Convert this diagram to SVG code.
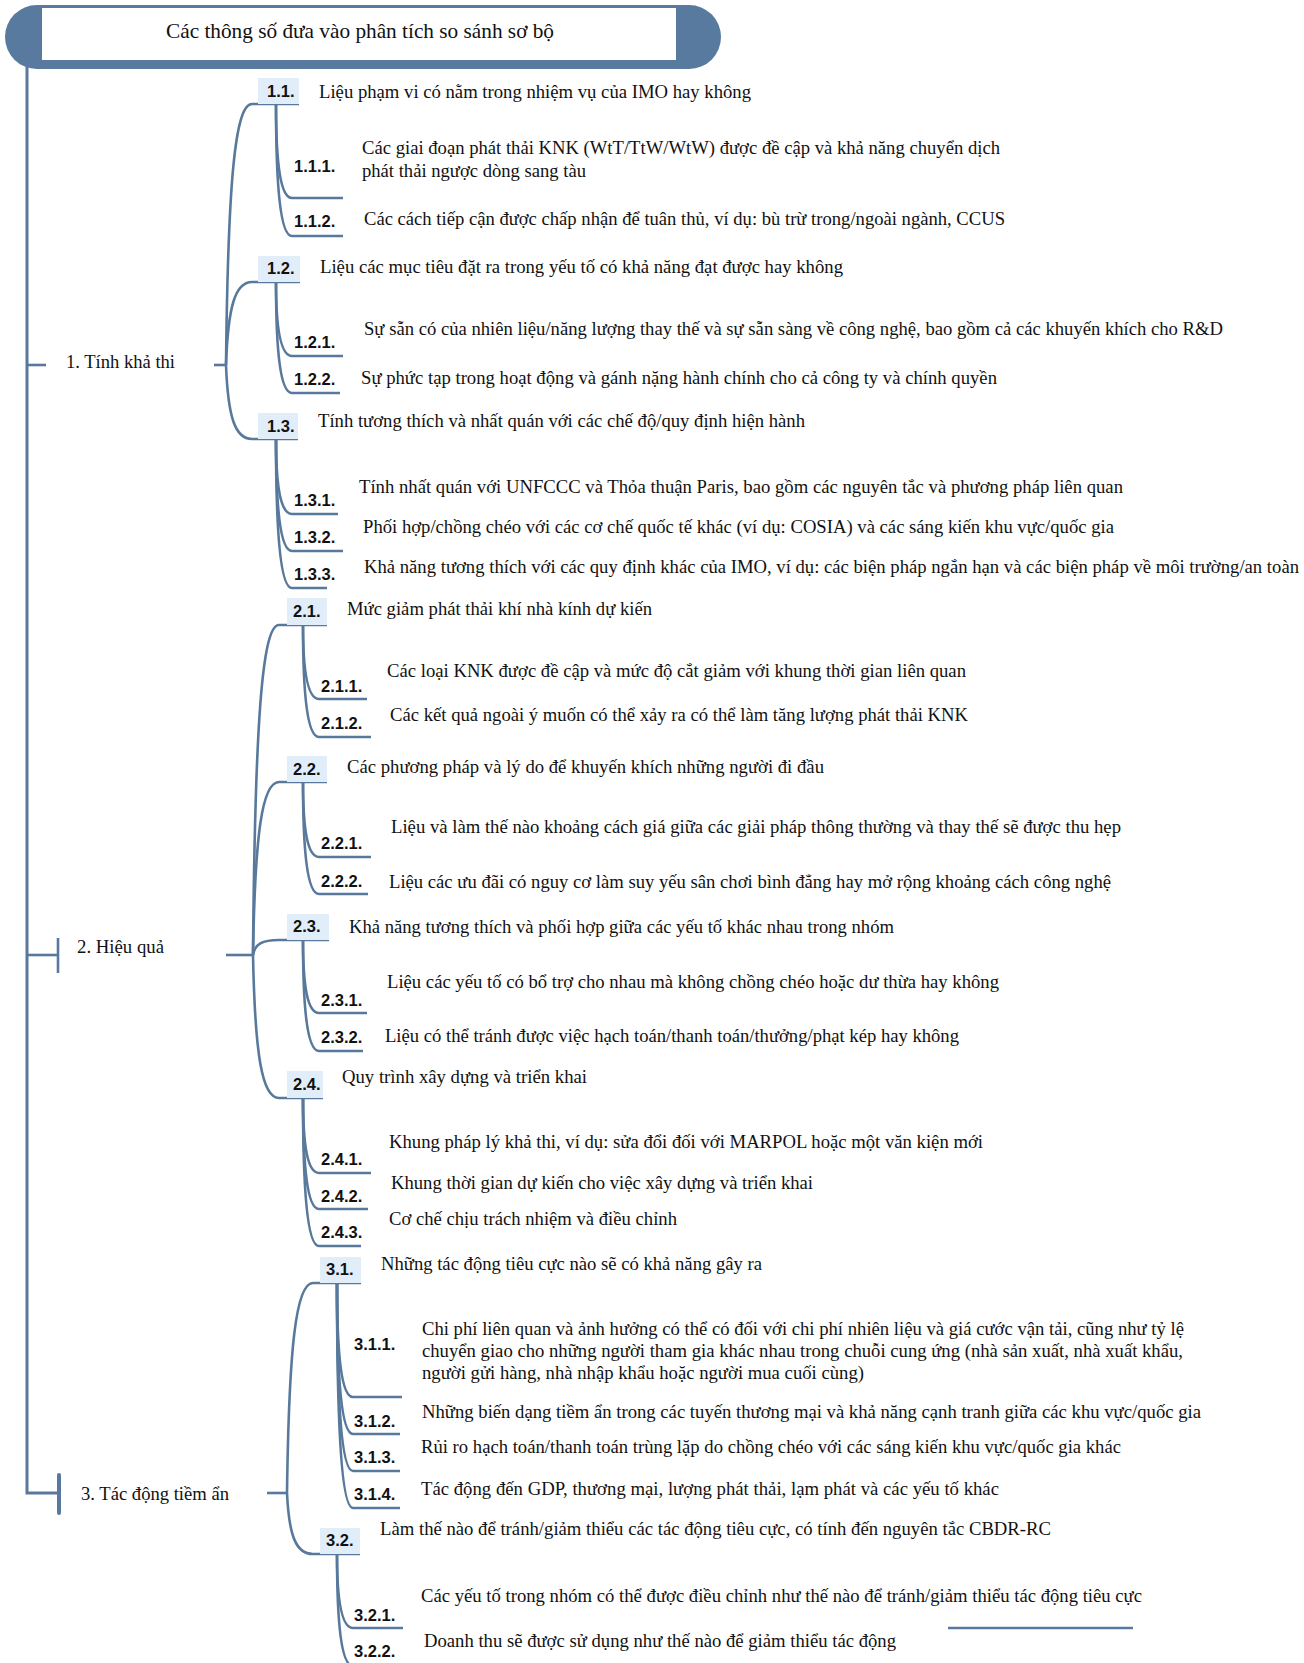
<svg xmlns="http://www.w3.org/2000/svg" width="1304" height="1663" viewBox="0 0 1304 1663">
<style>
.bg{fill:#ffffff}
.ln{fill:none;stroke:#58799b;stroke-width:2.6;stroke-linecap:butt}
.tk{fill:none;stroke:#58799b;stroke-width:3}
.bx{fill:#e1eefa}
.t{font-family:"Liberation Serif","Times New Roman",serif;font-size:18.5px;fill:#111}
.ttl{font-family:"Liberation Serif","Times New Roman",serif;font-size:21px;fill:#111}
.lb{font-family:"Liberation Sans",Arial,sans-serif;font-size:16.5px;font-weight:bold;fill:#111}
</style>
<rect class="bg" x="0" y="0" width="1304" height="1663"/>

<g id="header">
  <rect x="5" y="5" width="716" height="64" rx="32" ry="32" fill="#587a9e"/>
  <rect x="42" y="8" width="634" height="52" fill="#ffffff"/>
  <text class="ttl" x="166" y="38" textLength="388" lengthAdjust="spacingAndGlyphs">Các thông số đưa vào phân tích so sánh sơ bộ</text>
</g>

<g id="connectors">
  <!-- trunk -->
  <path class="tk" d="M27 66 V1493 H58"/>
  <path class="ln" d="M27 365 H46"/>
  <path class="ln" d="M27 955 H58"/>
  <path class="ln" d="M58 938 V973"/>
  <path d="M59 1475 V1513" stroke="#58799b" stroke-width="4" stroke-linecap="round" fill="none"/>
  <path class="ln" d="M214 365 H226"/>
  <path class="ln" d="M226 955 H253"/>
  <path class="ln" d="M267 1493 H287"/>
  <!-- level 2 section 1 -->
  <path class="ln" d="M226 365 C228 182 235 104 252 104 L299 104"/>
  <path class="ln" d="M226 365 C228 307 235 282 252 282 L300 282"/>
  <path class="ln" d="M226 365 C228 417 235 439 252 439 L298 439"/>
  <!-- level 2 section 2 -->
  <path class="ln" d="M253 955 C255 724 262 625 279 625 L327 625"/>
  <path class="ln" d="M253 955 C255 834 262 782 279 782 L327 782"/>
  <path class="ln" d="M253 955 C255 944 262 940 279 940 L329 940"/>
  <path class="ln" d="M253 955 C255 1055 262 1098 279 1098 L323 1098"/>
  <!-- level 2 section 3 -->
  <path class="ln" d="M287 1493 C289 1346 296 1283 313 1283 L361 1283"/>
  <path class="ln" d="M287 1493 C289 1536 296 1554 313 1554 L360 1554"/>
  <!-- level 3 -->
  <path class="ln" d="M276 104 C276 160 280 198 292 198 L343 198"/>
  <path class="ln" d="M276 104 C276 183 280 236 292 236 L343 236"/>
  <path class="ln" d="M276 282 C276 326 280 356 292 356 L343 356"/>
  <path class="ln" d="M276 282 C276 349 280 393 292 393 L340 393"/>
  <path class="ln" d="M276 439 C276 484 280 514 292 514 L338 514"/>
  <path class="ln" d="M276 439 C276 506 280 551 292 551 L343 551"/>
  <path class="ln" d="M276 439 C276 528 280 588 292 588 L327 588"/>
  <path class="ln" d="M303 625 C303 669 307 699 319 699 L367 699"/>
  <path class="ln" d="M303 625 C303 692 307 737 319 737 L371 737"/>
  <path class="ln" d="M303 782 C303 827 307 857 319 857 L371 857"/>
  <path class="ln" d="M303 782 C303 849 307 894 319 894 L368 894"/>
  <path class="ln" d="M303 940 C303 984 307 1013 319 1013 L367 1013"/>
  <path class="ln" d="M303 940 C303 1007 307 1051 319 1051 L363 1051"/>
  <path class="ln" d="M303 1098 C303 1143 307 1173 319 1173 L371 1173"/>
  <path class="ln" d="M303 1098 C303 1165 307 1209 319 1209 L368 1209"/>
  <path class="ln" d="M303 1098 C303 1187 307 1246 319 1246 L361 1246"/>
  <path class="ln" d="M337 1283 C337 1351 341 1397 353 1397 L402 1397"/>
  <path class="ln" d="M337 1283 C337 1374 341 1434 353 1434 L400 1434"/>
  <path class="ln" d="M337 1283 C337 1396 341 1471 353 1471 L400 1471"/>
  <path class="ln" d="M337 1283 C337 1418 341 1508 353 1508 L400 1508"/>
  <path class="ln" d="M337 1554 C337 1598 341 1628 353 1628 L403 1628"/>
  <path class="ln" d="M337 1554 C337 1621 341 1666 353 1666 L403 1666"/>
  <path class="ln" d="M948 1628 H1133"/>
</g>

<g id="n1"><text class="t" x="66" y="368" textLength="109" lengthAdjust="spacingAndGlyphs">1. Tính khả thi</text></g>
<g id="n2"><text class="t" x="77" y="953" textLength="87" lengthAdjust="spacingAndGlyphs">2. Hiệu quả</text></g>
<g id="n3"><text class="t" x="81" y="1500" textLength="148" lengthAdjust="spacingAndGlyphs">3. Tác động tiềm ẩn</text></g>

<g id="n1-1"><rect class="bx" x="258" y="78" width="41" height="26"/><text class="lb" x="267" y="97">1.1.</text>
<text class="t" x="319" y="98" textLength="432" lengthAdjust="spacingAndGlyphs">Liệu phạm vi có nằm trong nhiệm vụ của IMO hay không</text></g>
<g id="n1-1-1"><text class="lb" x="294" y="172">1.1.1.</text>
<text class="t" x="362" y="154" textLength="638" lengthAdjust="spacingAndGlyphs">Các giai đoạn phát thải KNK (WtT/TtW/WtW) được đề cập và khả năng chuyển dịch</text>
<text class="t" x="362" y="177" textLength="224" lengthAdjust="spacingAndGlyphs">phát thải ngược dòng sang tàu</text></g>
<g id="n1-1-2"><text class="lb" x="294" y="227">1.1.2.</text>
<text class="t" x="364" y="225" textLength="641" lengthAdjust="spacingAndGlyphs">Các cách tiếp cận được chấp nhận để tuân thủ, ví dụ: bù trừ trong/ngoài ngành, CCUS</text></g>

<g id="n1-2"><rect class="bx" x="258" y="256" width="42" height="26"/><text class="lb" x="267" y="274">1.2.</text>
<text class="t" x="320" y="273" textLength="523" lengthAdjust="spacingAndGlyphs">Liệu các mục tiêu đặt ra trong yếu tố có khả năng đạt được hay không</text></g>
<g id="n1-2-1"><text class="lb" x="294" y="348">1.2.1.</text>
<text class="t" x="364" y="335" textLength="859" lengthAdjust="spacingAndGlyphs">Sự sẵn có của nhiên liệu/năng lượng thay thế và sự sẵn sàng về công nghệ, bao gồm cả các khuyến khích cho R&amp;D</text></g>
<g id="n1-2-2"><text class="lb" x="294" y="385">1.2.2.</text>
<text class="t" x="361" y="384" textLength="636" lengthAdjust="spacingAndGlyphs">Sự phức tạp trong hoạt động và gánh nặng hành chính cho cả công ty và chính quyền</text></g>

<g id="n1-3"><rect class="bx" x="258" y="413" width="40" height="26"/><text class="lb" x="267" y="432">1.3.</text>
<text class="t" x="318" y="427" textLength="487" lengthAdjust="spacingAndGlyphs">Tính tương thích và nhất quán với các chế độ/quy định hiện hành</text></g>
<g id="n1-3-1"><text class="lb" x="294" y="506">1.3.1.</text>
<text class="t" x="359" y="493" textLength="764" lengthAdjust="spacingAndGlyphs">Tính nhất quán với UNFCCC và Thỏa thuận Paris, bao gồm các nguyên tắc và phương pháp liên quan</text></g>
<g id="n1-3-2"><text class="lb" x="294" y="543">1.3.2.</text>
<text class="t" x="363" y="533" textLength="751" lengthAdjust="spacingAndGlyphs">Phối hợp/chồng chéo với các cơ chế quốc tế khác (ví dụ: COSIA) và các sáng kiến khu vực/quốc gia</text></g>
<g id="n1-3-3"><text class="lb" x="294" y="580">1.3.3.</text>
<text class="t" x="364" y="573" textLength="935" lengthAdjust="spacingAndGlyphs">Khả năng tương thích với các quy định khác của IMO, ví dụ: các biện pháp ngắn hạn và các biện pháp về môi trường/an toàn</text></g>

<g id="n2-1"><rect class="bx" x="287" y="598" width="40" height="27"/><text class="lb" x="293" y="617">2.1.</text>
<text class="t" x="347" y="615" textLength="305" lengthAdjust="spacingAndGlyphs">Mức giảm phát thải khí nhà kính dự kiến</text></g>
<g id="n2-1-1"><text class="lb" x="321" y="692">2.1.1.</text>
<text class="t" x="387" y="677" textLength="579" lengthAdjust="spacingAndGlyphs">Các loại KNK được đề cập và mức độ cắt giảm với khung thời gian liên quan</text></g>
<g id="n2-1-2"><text class="lb" x="321" y="729">2.1.2.</text>
<text class="t" x="390" y="721" textLength="578" lengthAdjust="spacingAndGlyphs">Các kết quả ngoài ý muốn có thể xảy ra có thể làm tăng lượng phát thải KNK</text></g>

<g id="n2-2"><rect class="bx" x="287" y="756" width="40" height="26"/><text class="lb" x="293" y="775">2.2.</text>
<text class="t" x="347" y="773" textLength="477" lengthAdjust="spacingAndGlyphs">Các phương pháp và lý do để khuyến khích những người đi đầu</text></g>
<g id="n2-2-1"><text class="lb" x="321" y="849">2.2.1.</text>
<text class="t" x="391" y="833" textLength="730" lengthAdjust="spacingAndGlyphs">Liệu và làm thế nào khoảng cách giá giữa các giải pháp thông thường và thay thế sẽ được thu hẹp</text></g>
<g id="n2-2-2"><text class="lb" x="321" y="887">2.2.2.</text>
<text class="t" x="389" y="888" textLength="722" lengthAdjust="spacingAndGlyphs">Liệu các ưu đãi có nguy cơ làm suy yếu sân chơi bình đẳng hay mở rộng khoảng cách công nghệ</text></g>

<g id="n2-3"><rect class="bx" x="287" y="914" width="42" height="26"/><text class="lb" x="293" y="932">2.3.</text>
<text class="t" x="349" y="933" textLength="545" lengthAdjust="spacingAndGlyphs">Khả năng tương thích và phối hợp giữa các yếu tố khác nhau trong nhóm</text></g>
<g id="n2-3-1"><text class="lb" x="321" y="1006">2.3.1.</text>
<text class="t" x="387" y="988" textLength="612" lengthAdjust="spacingAndGlyphs">Liệu các yếu tố có bổ trợ cho nhau mà không chồng chéo hoặc dư thừa hay không</text></g>
<g id="n2-3-2"><text class="lb" x="321" y="1043">2.3.2.</text>
<text class="t" x="385" y="1042" textLength="574" lengthAdjust="spacingAndGlyphs">Liệu có thể tránh được việc hạch toán/thanh toán/thưởng/phạt kép hay không</text></g>

<g id="n2-4"><rect class="bx" x="287" y="1071" width="36" height="27"/><text class="lb" x="293" y="1090">2.4.</text>
<text class="t" x="342" y="1083" textLength="245" lengthAdjust="spacingAndGlyphs">Quy trình xây dựng và triển khai</text></g>
<g id="n2-4-1"><text class="lb" x="321" y="1165">2.4.1.</text>
<text class="t" x="389" y="1148" textLength="594" lengthAdjust="spacingAndGlyphs">Khung pháp lý khả thi, ví dụ: sửa đổi đối với MARPOL hoặc một văn kiện mới</text></g>
<g id="n2-4-2"><text class="lb" x="321" y="1202">2.4.2.</text>
<text class="t" x="391" y="1189" textLength="422" lengthAdjust="spacingAndGlyphs">Khung thời gian dự kiến cho việc xây dựng và triển khai</text></g>
<g id="n2-4-3"><text class="lb" x="321" y="1238">2.4.3.</text>
<text class="t" x="389" y="1225" textLength="288" lengthAdjust="spacingAndGlyphs">Cơ chế chịu trách nhiệm và điều chỉnh</text></g>

<g id="n3-1"><rect class="bx" x="320" y="1257" width="41" height="26"/><text class="lb" x="326" y="1275">3.1.</text>
<text class="t" x="381" y="1270" textLength="381" lengthAdjust="spacingAndGlyphs">Những tác động tiêu cực nào sẽ có khả năng gây ra</text></g>
<g id="n3-1-1"><text class="lb" x="354" y="1350">3.1.1.</text>
<text class="t" x="422" y="1335" textLength="762" lengthAdjust="spacingAndGlyphs">Chi phí liên quan và ảnh hưởng có thể có đối với chi phí nhiên liệu và giá cước vận tải, cũng như tỷ lệ</text>
<text class="t" x="422" y="1357" textLength="761" lengthAdjust="spacingAndGlyphs">chuyển giao cho những người tham gia khác nhau trong chuỗi cung ứng (nhà sản xuất, nhà xuất khẩu,</text>
<text class="t" x="422" y="1379" textLength="442" lengthAdjust="spacingAndGlyphs">người gửi hàng, nhà nhập khẩu hoặc người mua cuối cùng)</text></g>
<g id="n3-1-2"><text class="lb" x="354" y="1427">3.1.2.</text>
<text class="t" x="422" y="1418" textLength="779" lengthAdjust="spacingAndGlyphs">Những biến dạng tiềm ẩn trong các tuyến thương mại và khả năng cạnh tranh giữa các khu vực/quốc gia</text></g>
<g id="n3-1-3"><text class="lb" x="354" y="1463">3.1.3.</text>
<text class="t" x="421" y="1453" textLength="700" lengthAdjust="spacingAndGlyphs">Rủi ro hạch toán/thanh toán trùng lặp do chồng chéo với các sáng kiến khu vực/quốc gia khác</text></g>
<g id="n3-1-4"><text class="lb" x="354" y="1500">3.1.4.</text>
<text class="t" x="421" y="1495" textLength="578" lengthAdjust="spacingAndGlyphs">Tác động đến GDP, thương mại, lượng phát thải, lạm phát và các yếu tố khác</text></g>

<g id="n3-2"><rect class="bx" x="320" y="1528" width="40" height="26"/><text class="lb" x="326" y="1546">3.2.</text>
<text class="t" x="380" y="1535" textLength="671" lengthAdjust="spacingAndGlyphs">Làm thế nào để tránh/giảm thiểu các tác động tiêu cực, có tính đến nguyên tắc CBDR-RC</text></g>
<g id="n3-2-1"><text class="lb" x="354" y="1621">3.2.1.</text>
<text class="t" x="421" y="1602" textLength="721" lengthAdjust="spacingAndGlyphs">Các yếu tố trong nhóm có thể được điều chỉnh như thế nào để tránh/giảm thiểu tác động tiêu cực</text></g>
<g id="n3-2-2"><text class="lb" x="354" y="1657">3.2.2.</text>
<text class="t" x="424" y="1647" textLength="472" lengthAdjust="spacingAndGlyphs">Doanh thu sẽ được sử dụng như thế nào để giảm thiểu tác động</text></g>
</svg>
